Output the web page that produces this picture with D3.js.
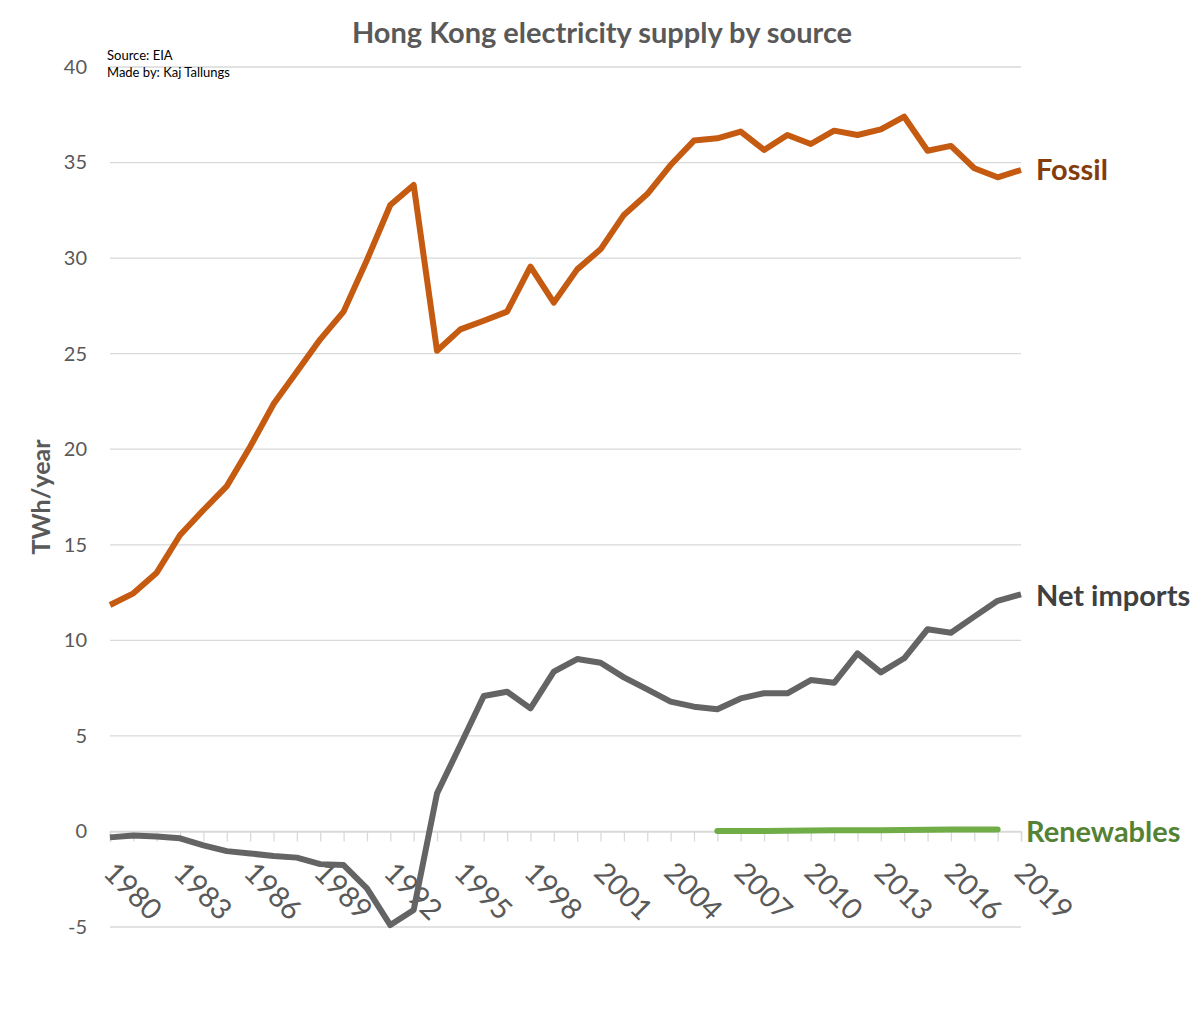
<!DOCTYPE html>
<html>
<head>
<meta charset="utf-8">
<script src="https://cdn.jsdelivr.net/npm/d3@7"></script>
<style>
  body { margin: 0; background: #fff; }
  text { font-family: Lato, "Open Sans", sans-serif; }
</style>
</head>
<body>
<div id="chart"></div>
<script>
// years 1980..2019
var years = d3.range(1980, 2020);

// TWh/year
var fossil = [11.85, 12.46, 13.54, 15.51, 16.82, 18.07, 20.13, 22.36, 24.06, 25.75,
              27.2, 29.9, 32.78, 33.83, 25.15, 26.27, 26.72, 27.2, 29.55, 27.67,
              29.41, 30.46, 32.26, 33.35, 34.87, 36.15, 36.27, 36.62, 35.66, 36.44,
              35.97, 36.67, 36.44, 36.74, 37.4, 35.62, 35.87, 34.7, 34.23, 34.61];
var netImports = [-0.31, -0.21, -0.26, -0.36, -0.73, -1.03, -1.15, -1.29, -1.37, -1.71,
                  -1.76, -2.98, -4.9, -4.11, 1.99, 4.52, 7.09, 7.31, 6.44, 8.36,
                  9.02, 8.83, 8.06, 7.43, 6.79, 6.53, 6.39, 6.96, 7.23, 7.23,
                  7.92, 7.78, 9.32, 8.32, 9.06, 10.58, 10.4, 11.24, 12.07, 12.41];
// renewables only reported 2006..2018
var renewYears = d3.range(2006, 2019);
var renewables = [0.02, 0.02, 0.02, 0.03, 0.05, 0.06, 0.06, 0.06, 0.07, 0.09, 0.1, 0.1, 0.1];

var yTicks = [-5, 0, 5, 10, 15, 20, 25, 30, 35, 40];
var xLabelYears = d3.range(1980, 2020, 3);

function draw_chart() {
    var width = 1201, height = 1024;
    var svg = d3.select("#chart").append("svg")
        .attr("width", width).attr("height", height);

    var left = 110, right = 1021, top = 67, bottom = 927;

    var x = d3.scaleLinear().domain([1980, 2019]).range([left, right]);
    var y = d3.scaleLinear().domain([-5, 40]).range([bottom, top]);

    // gridlines
    svg.append("g").selectAll("line")
        .data(yTicks)
        .enter().append("line")
        .attr("x1", left).attr("x2", right)
        .attr("y1", function(d) { return y(d); })
        .attr("y2", function(d) { return y(d); })
        .attr("stroke", "#d9d9d9").attr("stroke-width", 1.3);

    // y axis labels (plain hyphen for the minus, like the original)
    var yAxis = d3.axisLeft(y).tickValues(yTicks).tickSize(0).tickPadding(0)
        .tickFormat(function(d) { return String(d); });
    var gy = svg.append("g").attr("transform", "translate(87,0)").call(yAxis);
    gy.select(".domain").remove();
    gy.selectAll("text")
        .attr("fill", "#595959")
        .style("font-size", "20px")
        .style("font-family", "Lato, sans-serif");

    // category axis sits on zero
    var xAxis = d3.axisBottom(x).tickValues(years).tickSize(10).tickFormat("");
    var gx = svg.append("g").attr("transform", "translate(0," + y(0) + ")").call(xAxis);
    gx.select(".domain").attr("stroke", "#d9d9d9").attr("stroke-width", 1.5);
    gx.selectAll(".tick line").attr("stroke", "#d9d9d9").attr("stroke-width", 1.3);

    svg.append("g").selectAll("text")
        .data(xLabelYears)
        .enter().append("text")
        .attr("transform", function(d) {
            return "translate(" + (x(d) - 8) + "," + (y(0) + 43) + ") rotate(45)";
        })
        .attr("fill", "#595959")
        .style("font-size", "29px")
        .text(function(d) { return d; });

    var line = d3.line()
        .x(function(d) { return x(d[0]); })
        .y(function(d) { return y(d[1]); });

    svg.append("path")
        .datum(d3.zip(renewYears, renewables))
        .attr("d", line)
        .attr("fill", "none")
        .attr("stroke", "#70ad47").attr("stroke-width", 6)
        .attr("stroke-linecap", "round").attr("stroke-linejoin", "round");

    svg.append("path")
        .datum(d3.zip(years, netImports))
        .attr("d", line)
        .attr("fill", "none")
        .attr("stroke", "#646464").attr("stroke-width", 6)
        .attr("stroke-linejoin", "round");

    svg.append("path")
        .datum(d3.zip(years, fossil))
        .attr("d", line)
        .attr("fill", "none")
        .attr("stroke", "#c55a11").attr("stroke-width", 6)
        .attr("stroke-linejoin", "round");

    // series labels
    var lab = [
        {t: "Fossil", v: fossil[fossil.length - 1], c: "#843c0c", dx: 15, dy: 0},
        {t: "Net imports", v: netImports[netImports.length - 1], c: "#404040", dx: 15, dy: 2},
        {t: "Renewables", v: 0, c: "#548235", dx: 5, dy: 0}
    ];
    svg.append("g").selectAll("text")
        .data(lab)
        .enter().append("text")
        .attr("x", function(d) { return right + d.dx; })
        .attr("y", function(d) { return y(d.v) + d.dy; })
        .attr("dy", "0.35em")
        .attr("fill", function(d) { return d.c; })
        .style("font-size", "29px")
        .style("font-weight", "bold")
        .text(function(d) { return d.t; });

    // title
    svg.append("text")
        .attr("x", 602).attr("y", 43)
        .attr("text-anchor", "middle")
        .attr("fill", "#595959")
        .style("font-size", "29px")
        .style("font-weight", "bold")
        .text("Hong Kong electricity supply by source");

    svg.append("text").attr("x", 107).attr("y", 60)
        .style("font-size", "13px").attr("fill", "#000")
        .text("Source: EIA");
    svg.append("text").attr("x", 107).attr("y", 77)
        .style("font-size", "13px").attr("fill", "#000")
        .text("Made by: Kaj Tallungs");

    // y axis title
    svg.append("text")
        .attr("transform", "translate(50,497) rotate(-90)")
        .attr("text-anchor", "middle")
        .attr("fill", "#595959")
        .style("font-size", "25px")
        .style("font-weight", "bold")
        .text("TWh/year");
}

window.onload = draw_chart;
</script>
</body>
</html>
